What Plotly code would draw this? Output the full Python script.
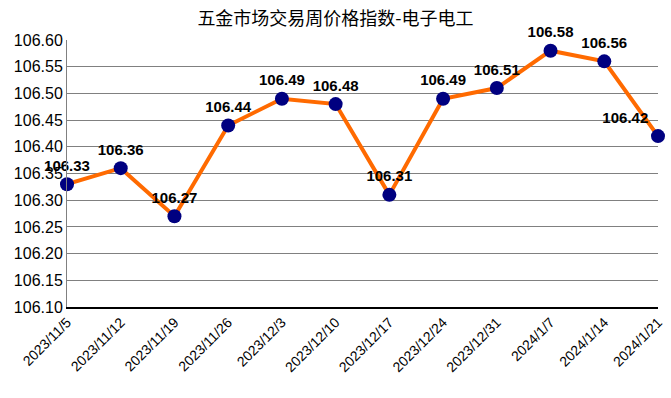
import plotly.graph_objects as go

dates = ["2023/11/5", "2023/11/12", "2023/11/19", "2023/11/26", "2023/12/3", "2023/12/10",
         "2023/12/17", "2023/12/24", "2023/12/31", "2024/1/7", "2024/1/14", "2024/1/21"]
values = [106.33, 106.36, 106.27, 106.44, 106.49, 106.48, 106.31, 106.49, 106.51, 106.58, 106.56, 106.42]
yticks = [106.10, 106.15, 106.20, 106.25, 106.30, 106.35, 106.40, 106.45, 106.50, 106.55, 106.60]
label_pos = ["top center"] * (len(values) - 1) + ["top left"]

fig = go.Figure()
fig.add_trace(go.Scatter(
    x=dates, y=values, mode="lines+markers+text",
    line=dict(color="#FF6A00", width=4),
    marker=dict(color="#000080", size=14),
    text=[f"{v:.2f}" for v in values],
    textposition=label_pos,
    textfont=dict(family="Liberation Sans, Arial", size=15, color="black", weight="bold"),
    cliponaxis=False,
    hoverinfo="skip",
))

fig.update_layout(
    width=671, height=398,
    margin=dict(l=67, r=13, t=40, b=91),
    paper_bgcolor="white", plot_bgcolor="white",
    showlegend=False,
    title=dict(text="五金市场交易周价格指数-电子电工", x=0.5, xanchor="center",
               y=1 - 19 / 398, yanchor="middle",
               font=dict(family="Noto Sans CJK SC", size=18, color="black")),
    font=dict(family="Liberation Sans, Arial", color="black"),
)
fig.update_xaxes(
    type="category", range=[0, len(dates) - 1],
    tickangle=-45, tickfont=dict(size=14, color="black"),
    showgrid=False, showline=True, linecolor="black", linewidth=1.5,
    ticks="", zeroline=False, automargin=False,
)
fig.update_yaxes(
    range=[106.10, 106.60], tickvals=yticks,
    ticktext=[f"{v:.2f}" for v in yticks],
    tickfont=dict(size=16, color="black"),
    showgrid=True, gridcolor="#808080", gridwidth=1,
    showline=True, linecolor="#808080", linewidth=1,
    zeroline=False, ticks="", automargin=False,
)

fig.write_html("out.html", config={"displayModeBar": False},
               post_script="document.body.style.margin='0';")
